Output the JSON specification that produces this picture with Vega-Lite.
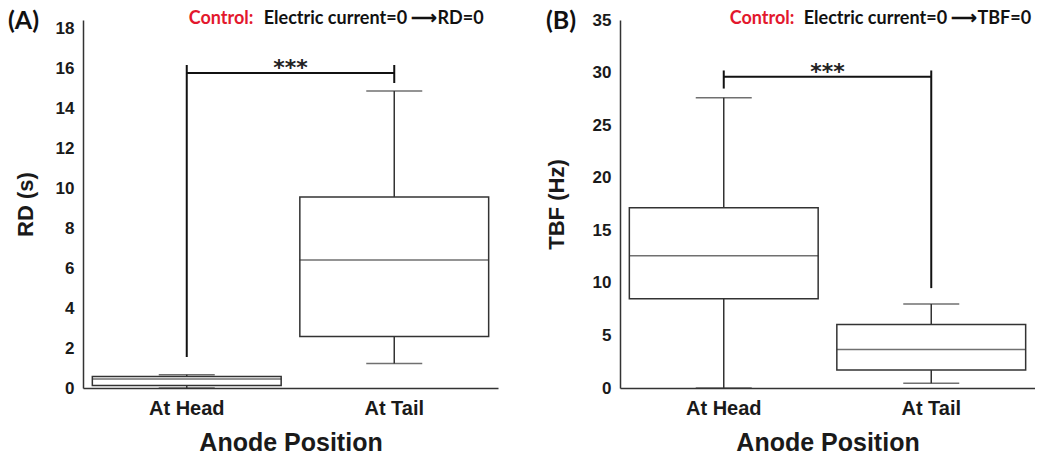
{
  "$schema": "https://vega.github.io/schema/vega-lite/v6.json",
  "padding": {"left": 8, "top": 8, "right": 0, "bottom": 0},
  "spacing": 47,
  "background": "white",
  "config": {
    "view": {"stroke": null},
    "axis": {
      "grid": false, "ticks": false,
      "domainColor": "#333", "domainWidth": 1.5,
      "labelFont": "Liberation Sans", "labelFontWeight": "bold", "labelColor": "#1a1a1a",
      "titleFont": "Liberation Sans", "titleFontWeight": "bold", "titleColor": "#1a1a1a"
    },
    "axisX": {"labelAngle": 0, "labelFontSize": 20, "labelPadding": 10, "titleFontSize": 25, "titlePadding": 12},
    "axisY": {"labelFontSize": 17, "labelPadding": 9, "titleFontSize": 22, "titlePadding": 18},
    "title": {"font": "Lato", "fontSize": 25, "fontWeight": "bold", "anchor": "start", "frame": "group", "color": "#111"}
  },
  "datasets": {
    "rd_stats": [
      {"position": "At Head", "min": 0, "q1": 0.12, "median": 0.45, "q3": 0.58, "max": 0.66},
      {"position": "At Tail", "min": 1.23, "q1": 2.58, "median": 6.4, "q3": 9.55, "max": 14.85}
    ],
    "rd_legs": [
      {"position": "At Head", "low": 1.55, "high": 16.15},
      {"position": "At Tail", "low": 15.25, "high": 16.15}
    ],
    "rd_bar": [{"position": "At Head", "position_end": "At Tail", "level": 15.75, "mark_label": "***"}],
    "rd_note": [{"position": "At Head", "level": 18.45, "lead": "Control:", "rest": "Electric current=0 ⟶RD=0"}],
    "tbf_stats": [
      {"position": "At Head", "min": 0, "q1": 8.5, "median": 12.57, "q3": 17.14, "max": 27.6},
      {"position": "At Tail", "min": 0.45, "q1": 1.71, "median": 3.65, "q3": 6.03, "max": 8.0}
    ],
    "tbf_legs": [
      {"position": "At Head", "low": 28.48, "high": 30.2},
      {"position": "At Tail", "low": 9.5, "high": 30.2}
    ],
    "tbf_bar": [{"position": "At Head", "position_end": "At Tail", "level": 29.6, "mark_label": "***"}],
    "tbf_note": [{"position": "At Head", "level": 35.1, "lead": "Control:", "rest": "Electric current=0 ⟶TBF=0"}]
  },
  "hconcat": [
    {
      "width": 415, "height": 368,
      "title": {"text": "(A)", "dx": -75, "dy": 28},
      "encoding": {
        "x": {"field": "position", "type": "nominal", "title": "Anode Position",
              "scale": {"domain": ["At Head", "At Tail"], "paddingInner": 0, "paddingOuter": 0}}
      },
      "layer": [
        {"data": {"name": "rd_stats"}, "mark": {"type": "rule", "color": "#333", "strokeWidth": 1.5},
         "encoding": {"y": {"field": "min", "type": "quantitative", "title": "RD (s)", "scale": {"domain": [0, 18.4], "nice": false}, "axis": {"values": [0, 2, 4, 6, 8, 10, 12, 14, 16, 18]}}, "y2": {"field": "max"}}},
        {"data": {"name": "rd_stats"}, "mark": {"type": "bar", "fill": "white", "stroke": "#333", "strokeWidth": 1.5, "width": {"band": 0.91}},
         "encoding": {"y": {"field": "q1", "type": "quantitative", "title": "RD (s)", "scale": {"domain": [0, 18.4], "nice": false}}, "y2": {"field": "q3"}}},
        {"data": {"name": "rd_stats"}, "mark": {"type": "tick", "color": "#333", "thickness": 1.5, "size": 189},
         "encoding": {"y": {"field": "median", "type": "quantitative", "title": "RD (s)", "scale": {"domain": [0, 18.4], "nice": false}}}},
        {"data": {"name": "rd_stats"}, "mark": {"type": "tick", "color": "#333", "thickness": 1.5, "size": 56},
         "encoding": {"y": {"field": "max", "type": "quantitative", "title": "RD (s)", "scale": {"domain": [0, 18.4], "nice": false}}}},
        {"data": {"name": "rd_stats"}, "mark": {"type": "tick", "color": "#333", "thickness": 1.5, "size": 56},
         "encoding": {"y": {"field": "min", "type": "quantitative", "title": "RD (s)", "scale": {"domain": [0, 18.4], "nice": false}}}},
        {"data": {"name": "rd_legs"}, "mark": {"type": "rule", "color": "#111", "strokeWidth": 2},
         "encoding": {"y": {"field": "low", "type": "quantitative", "title": "RD (s)", "scale": {"domain": [0, 18.4], "nice": false}}, "y2": {"field": "high"}}},
        {"data": {"name": "rd_bar"}, "mark": {"type": "rule", "color": "#111", "strokeWidth": 2},
         "encoding": {"x2": {"field": "position_end"}, "y": {"field": "level", "type": "quantitative", "title": "RD (s)", "scale": {"domain": [0, 18.4], "nice": false}}}},
        {"data": {"name": "rd_bar"}, "mark": {"type": "text", "font": "DejaVu Sans", "fontWeight": "bold", "fontSize": 22, "color": "#222", "baseline": "alphabetic", "dy": 2},
         "encoding": {"x": {"field": "position", "type": "nominal", "bandPosition": 1, "title": "Anode Position"}, "y": {"field": "level", "type": "quantitative", "title": "RD (s)", "scale": {"domain": [0, 18.4], "nice": false}}, "text": {"field": "mark_label"}}},
        {"data": {"name": "rd_note"}, "mark": {"type": "text", "font": "Lato", "fontWeight": "bold", "fontSize": 18, "color": "#e3182d", "align": "left", "baseline": "middle", "dx": 2},
         "encoding": {"y": {"field": "level", "type": "quantitative", "title": "RD (s)", "scale": {"domain": [0, 18.4], "nice": false}}, "text": {"field": "lead"}}},
        {"data": {"name": "rd_note"}, "mark": {"type": "text", "font": "Lato", "fontWeight": "bold", "fontSize": 18, "color": "#111", "align": "left", "baseline": "middle", "dx": 77},
         "encoding": {"y": {"field": "level", "type": "quantitative", "title": "RD (s)", "scale": {"domain": [0, 18.4], "nice": false}}, "text": {"field": "rest"}}}
      ]
    },
    {
      "width": 415, "height": 368,
      "title": {"text": "(B)", "dx": -74, "dy": 28},
      "encoding": {
        "x": {"field": "position", "type": "nominal", "title": "Anode Position",
              "scale": {"domain": ["At Head", "At Tail"], "paddingInner": 0, "paddingOuter": 0}}
      },
      "layer": [
        {"data": {"name": "tbf_stats"}, "mark": {"type": "rule", "color": "#333", "strokeWidth": 1.5},
         "encoding": {"y": {"field": "min", "type": "quantitative", "title": "TBF (Hz)", "scale": {"domain": [0, 35], "nice": false}, "axis": {"values": [0, 5, 10, 15, 20, 25, 30, 35], "titlePadding": 24}}, "y2": {"field": "max"}}},
        {"data": {"name": "tbf_stats"}, "mark": {"type": "bar", "fill": "white", "stroke": "#333", "strokeWidth": 1.5, "width": {"band": 0.91}},
         "encoding": {"y": {"field": "q1", "type": "quantitative", "title": "TBF (Hz)", "scale": {"domain": [0, 35], "nice": false}}, "y2": {"field": "q3"}}},
        {"data": {"name": "tbf_stats"}, "mark": {"type": "tick", "color": "#333", "thickness": 1.5, "size": 189},
         "encoding": {"y": {"field": "median", "type": "quantitative", "title": "TBF (Hz)", "scale": {"domain": [0, 35], "nice": false}}}},
        {"data": {"name": "tbf_stats"}, "mark": {"type": "tick", "color": "#333", "thickness": 1.5, "size": 56},
         "encoding": {"y": {"field": "max", "type": "quantitative", "title": "TBF (Hz)", "scale": {"domain": [0, 35], "nice": false}}}},
        {"data": {"name": "tbf_stats"}, "mark": {"type": "tick", "color": "#333", "thickness": 1.5, "size": 56},
         "encoding": {"y": {"field": "min", "type": "quantitative", "title": "TBF (Hz)", "scale": {"domain": [0, 35], "nice": false}}}},
        {"data": {"name": "tbf_legs"}, "mark": {"type": "rule", "color": "#111", "strokeWidth": 2},
         "encoding": {"y": {"field": "low", "type": "quantitative", "title": "TBF (Hz)", "scale": {"domain": [0, 35], "nice": false}}, "y2": {"field": "high"}}},
        {"data": {"name": "tbf_bar"}, "mark": {"type": "rule", "color": "#111", "strokeWidth": 2},
         "encoding": {"x2": {"field": "position_end"}, "y": {"field": "level", "type": "quantitative", "title": "TBF (Hz)", "scale": {"domain": [0, 35], "nice": false}}}},
        {"data": {"name": "tbf_bar"}, "mark": {"type": "text", "font": "DejaVu Sans", "fontWeight": "bold", "fontSize": 22, "color": "#222", "baseline": "alphabetic", "dy": 2},
         "encoding": {"x": {"field": "position", "type": "nominal", "bandPosition": 1, "title": "Anode Position"}, "y": {"field": "level", "type": "quantitative", "title": "TBF (Hz)", "scale": {"domain": [0, 35], "nice": false}}, "text": {"field": "mark_label"}}},
        {"data": {"name": "tbf_note"}, "mark": {"type": "text", "font": "Lato", "fontWeight": "bold", "fontSize": 18, "color": "#e3182d", "align": "left", "baseline": "middle", "dx": 6},
         "encoding": {"y": {"field": "level", "type": "quantitative", "title": "TBF (Hz)", "scale": {"domain": [0, 35], "nice": false}}, "text": {"field": "lead"}}},
        {"data": {"name": "tbf_note"}, "mark": {"type": "text", "font": "Lato", "fontWeight": "bold", "fontSize": 18, "color": "#111", "align": "left", "baseline": "middle", "dx": 80},
         "encoding": {"y": {"field": "level", "type": "quantitative", "title": "TBF (Hz)", "scale": {"domain": [0, 35], "nice": false}}, "text": {"field": "rest"}}}
      ]
    }
  ]
}
